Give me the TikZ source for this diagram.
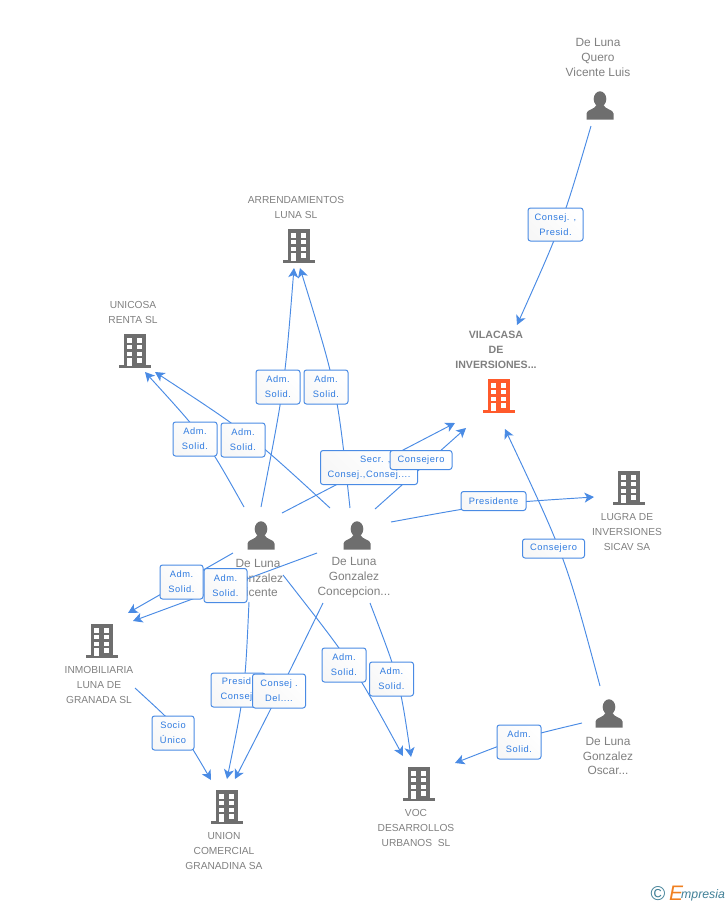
\documentclass[tikz,border=0pt]{standalone}
\usepackage{fontspec}
\setmainfont{Liberation Sans}
\newfontfamily\labfont[LetterSpace=6]{Liberation Sans}
\usetikzlibrary{arrows.meta}
\definecolor{linkc}{HTML}{4A8BE4}
\definecolor{txtc}{HTML}{808080}
\definecolor{labc}{HTML}{2F7BE0}
\definecolor{iconc}{HTML}{6E6E6E}
\definecolor{hotc}{HTML}{FF5A2B}
\definecolor{tealc}{HTML}{3F7F96}
\definecolor{orc}{HTML}{F08020}
\pgfdeclarelayer{under}
\pgfdeclarelayer{edges}
\pgfsetlayers{under,edges,main}
\tikzset{
  x=1pt,y=-1pt,
  cname/.style={text=txtc,align=center,inner sep=0pt,font=\fontsize{10.2}{14.7}\selectfont},
  pname/.style={cname,font=\fontsize{11.9}{14.9}\selectfont},
  tag/.style={draw=linkc,line width=1pt,rounded corners=2.5pt,
    left color=white!97!black,right color=white,shading angle=135,
    text=labc,align=center,inner sep=0pt,font=\labfont\fontsize{9.3}{15}\selectfont},
  link/.style={draw=linkc,line width=0.95pt},
  linka/.style={link,-{Stealth[length=9.5pt,width=10pt,inset=2.5pt]}},
  building/.pic={
    \fill (-16,16.7) rectangle (16,14);
    \fill (-11,-16.7) rectangle (11,15);
    \begin{scope}[fill=white]
      \foreach \r in {-12.7,-6,0.7} {\fill (-7.8,\r) rectangle (-3.3,\r+4.2);\fill (2.2,\r) rectangle (7,\r+4.2);}
      \fill (2.2,7.3) rectangle (7,11.5);
      \fill (-7.8,7.3) rectangle (-3,14.7);
    \end{scope}
  },
  person/.pic={
    \fill (0,-7) ellipse (6.3 and 7.7);
    \fill (-13.5,13.5) -- (-13.5,7.5) .. controls (-13.5,3.5) and (-5,3.5) .. (-3.5,-1) -- (3.5,-1) .. controls (5,3.5) and (13.5,3.5) .. (13.5,7.5) -- (13.5,13.5) -- cycle;
  }
}
\newcommand{\tagbox}[6]{\node[tag,minimum width=#4pt,minimum height=#5pt] (#1) at (#2,#3) {#6};}
\begin{document}
\begin{tikzpicture}
\useasboundingbox (0,0) rectangle (728,905);
\begin{pgfonlayer}{under}
  \pic[iconc] at (600,106) {person};
  \pic[iconc] at (261,536) {person};
  \pic[iconc] at (357,536) {person};
  \pic[iconc] at (609,714) {person};
  \pic[iconc] at (299,246) {building};
  \pic[iconc] at (135,351) {building};
  \pic[hotc] at (499,396) {building};
  \pic[iconc] at (629,488) {building};
  \pic[iconc] at (102,641) {building};
  \pic[iconc] at (227,807) {building};
  \pic[iconc] at (419,784) {building};
  \node[pname] (nquero) at (598,57.5) {De Luna\\Quero\\Vicente Luis};
  \node[cname] (narr) at (296,207.5) {ARRENDAMIENTOS\\LUNA SL};
  \node[cname] (nuni) at (133,312.5) {UNICOSA\\RENTA SL};
  \node[cname,font=\bfseries\fontsize{10.6}{14.9}\selectfont] (nvil) at (496,350) {VILACASA\\DE\\INVERSIONES...};
  \node[cname] (nlug) at (627,532) {LUGRA DE\\INVERSIONES\\SICAV SA};
  \node[pname] (nvic) at (258,578) {De Luna\\Gonzalez\\Vicente};
  \node[pname] (ncon) at (354,578) {De Luna\\Gonzalez\\Concepcion...};
  \node[pname] (nosc) at (608,756) {De Luna\\Gonzalez\\Oscar...};
  \node[cname] (ninm) at (99,685) {INMOBILIARIA\\LUNA DE\\GRANADA SL};
  \node[cname] (nuco) at (224,851) {UNION\\COMERCIAL\\GRANADINA SA};
  \node[cname] (nvoc) at (416,828) {VOC\\DESARROLLOS\\URBANOS\ \ SL};
\end{pgfonlayer}

% free ends
\coordinate (s1) at (591,126);   \coordinate (e1) at (517,325);
\coordinate (s2) at (244,507);   \coordinate (e2) at (145,372);
\coordinate (s3) at (330,508);   \coordinate (e3) at (155,372);
\coordinate (s4) at (261,507);   \coordinate (e4) at (294,268);
\coordinate (s5) at (350,508);   \coordinate (e5) at (300,268);
\coordinate (s6) at (282,513);   \coordinate (e6) at (455,423);
\coordinate (s7) at (375,509);   \coordinate (e7) at (466,428);
\coordinate (s8) at (391,522);   \coordinate (e8) at (594,497);
\coordinate (s9) at (600,686);   \coordinate (e9) at (505,429);
\coordinate (s10) at (582,723);  \coordinate (e10) at (455,763);
\coordinate (s11) at (283,575);  \coordinate (e11) at (403,756);
\coordinate (s12) at (370,603);  \coordinate (e12) at (411,757);
\coordinate (s13) at (249,602);  \coordinate (e13) at (227,779);
\coordinate (s14) at (323,603);  \coordinate (e14) at (235,779);
\coordinate (s15) at (135,688);  \coordinate (e15) at (211,780);
\coordinate (s16) at (233,553);  \coordinate (e16) at (128,613);
\coordinate (s17) at (317,553);  \coordinate (e17) at (133,621);

\begin{pgfonlayer}{edges}
  \draw[linka] (s1) .. controls (562,224.5) .. (e1);
  \draw[linka] (s2) .. controls (205.5,438.5) .. (e2);
  \draw[linka] (s3) .. controls (249.5,434) .. (e3);
  \draw[linka] (s4) .. controls (284.5,386.5) .. (e4);
  \draw[linka] (s5) .. controls (337,388) .. (e5);
  \draw[linka] (s6) -- (e6);
  \draw[linka] (s7) -- (e7);
  \draw[linka] (s8) .. controls (491.5,503.5) .. (e8);
  \draw[linka] (s9) .. controls (565.5,557.5) .. (e9);
  \draw[linka] (s10) .. controls (519,738) .. (e10);
  \draw[linka] (s11) .. controls (353,664.5) .. (e11);
  \draw[linka] (s12) .. controls (399.5,680) .. (e12);
  \draw[linka] (s13) .. controls (245,690.5) .. (e13);
  \draw[linka] (s14) .. controls (280,691) .. (e14);
  \draw[linka] (s15) .. controls (183,732) .. (e15);
  \draw[linka] (s16) -- (e16);
  \draw[linka] (s17) -- (e17);
\end{pgfonlayer}

% label boxes
\tagbox{t1}{555.5}{224.5}{55}{33}{Consej. ,\\Presid.}
\tagbox{t2}{195}{439}{44}{34}{Adm.\\Solid.}
\tagbox{t3}{243}{440}{44}{34}{Adm.\\Solid.}
\tagbox{t4}{278}{387}{44}{34}{Adm.\\Solid.}
\tagbox{t5}{326}{387}{44}{34}{Adm.\\Solid.}
\tagbox{t6}{369}{467.5}{97}{34}{\ \ \ \ Secr. ,\\Consej.,Consej....}
\tagbox{t7}{421}{460}{62}{19}{Consejero}
\tagbox{t8}{493.5}{501}{65}{19}{Presidente}
\tagbox{t9}{553.5}{548.5}{62}{19}{Consejero}
\tagbox{t10}{519}{742}{44}{34}{Adm.\\Solid.}
\tagbox{t11}{344}{665}{44}{34}{Adm.\\Solid.}
\tagbox{t12}{391.5}{679}{44}{34}{Adm.\\Solid.}
\tagbox{t13}{238}{690}{54}{34}{Presid.\\Consej.}
\tagbox{t14}{279}{691}{53}{34}{Consej .\\Del....}
\tagbox{t15}{173}{733}{42}{34}{Socio\\Único}
\tagbox{t16}{181.5}{582}{43}{34}{Adm.\\Solid.}
\tagbox{t17}{225.5}{585.5}{43}{34}{Adm.\\Solid.}

% logo
\node[text=tealc,inner sep=0pt,font=\fontsize{20}{20}\selectfont] (lc) at (658,894) {\textcopyright};
\node[text=orc,inner sep=0pt,font=\itshape\fontsize{21}{21}\selectfont] (le) at (676,893) {E};
\node[text=tealc,inner sep=0pt,anchor=west,font=\itshape\fontsize{12.3}{12.3}\selectfont] (lm) at (681,895) {mpresia};
\end{tikzpicture}
\end{document}
